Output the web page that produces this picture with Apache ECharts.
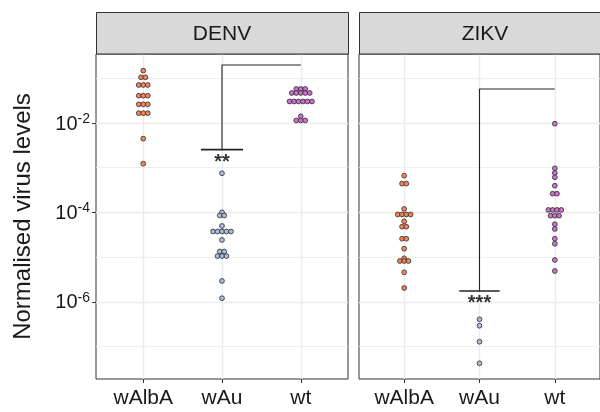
<!DOCTYPE html>
<html>
<head>
<meta charset="utf-8">
<script src="https://cdn.jsdelivr.net/npm/echarts@6/dist/echarts.min.js"></script>
<style>
html,body{margin:0;padding:0;background:#fff;}
#chart{width:600px;height:412px;}
</style>
</head>
<body>
<div id="chart"></div>
<script>
// ---------------- data ----------------
const panels = ['DENV', 'ZIKV'];
const categories = ['wAlbA', 'wAu', 'wt'];

// Normalised virus levels (each dot one sample)
const denv_wAlbA = [1.48e-1, 1.05e-1, 1.05e-1, 7.08e-2, 7.08e-2, 7.08e-2, 4.08e-2, 4.08e-2, 4.08e-2,
  2.62e-2, 2.62e-2, 2.62e-2, 1.66e-2, 1.66e-2, 1.66e-2, 4.47e-3, 1.23e-3];
const denv_wAu = [7.52e-4, 1.01e-4, 8.57e-5, 8.57e-5, 4.99e-5, 3.76e-5, 3.76e-5, 3.76e-5, 3.76e-5, 3.76e-5,
  2.43e-5, 1.34e-5, 1.34e-5, 1.06e-5, 1.06e-5, 1.06e-5, 2.94e-6, 1.21e-6];
const denv_wt = [5.77e-2, 5.77e-2, 5.77e-2, 4.69e-2, 4.69e-2, 4.69e-2, 4.69e-2, 4.69e-2,
  3.03e-2, 3.03e-2, 3.03e-2, 3.03e-2, 3.03e-2, 3.03e-2, 1.41e-2, 1.14e-2, 1.14e-2, 1.14e-2];
const zikv_wAlbA = [6.64e-4, 4.41e-4, 4.41e-4, 1.20e-4, 9.02e-5, 9.02e-5, 9.02e-5, 9.02e-5, 6.35e-5,
  4.81e-5, 4.81e-5, 2.59e-5, 2.59e-5, 1.55e-5, 9.46e-6, 8.22e-6, 8.22e-6, 8.22e-6, 4.60e-6, 2.05e-6];
const zikv_wAu = [4.09e-7, 2.94e-7, 1.29e-7, 4.25e-8];
const zikv_wt = [9.66e-3, 9.72e-4, 7.64e-4, 6.12e-4, 3.97e-4, 2.63e-4, 2.63e-4, 1.14e-4, 1.14e-4, 1.14e-4, 1.14e-4,
  8.47e-5, 8.47e-5, 8.47e-5, 5.45e-5, 4.28e-5, 2.59e-5, 2.00e-5, 8.67e-6, 4.92e-6];

// significance brackets (wAu vs wt) per panel
const sigTop = [1.98e-1, 5.77e-2];
const sigBottom = [2.54e-3, 1.76e-6];
const sigText = ['**', '***'];

// y axis ticks (powers of ten)
const yTickExponents = [-2, -4, -6];
const yMinorExponents = [-1, -3, -5, -7];
const yRange = [-7.723, -0.457]; // log10 extent of the panels

// ---------------- style ----------------
const FONT = 'Liberation Sans, Arial, Helvetica, sans-serif';
const colors = ['#F4845A', '#A9BDDB', '#CF6FCF'];
const DOT_STEP = 0.057;   // horizontal step between stacked dots (x units)
const BAR_HALF = 0.267;   // half-width of the significance bar (x units)

const gridLeft = [96, 359];
const gridTop = 54, gridW = 252, gridH = 325;

const panelData = [[denv_wAlbA, denv_wAu, denv_wt], [zikv_wAlbA, zikv_wAu, zikv_wt]];

function dotData(values, catIdx) {
  const out = [];
  let i = 0;
  while (i < values.length) {
    let j = i;
    while (j < values.length && values[j] === values[i]) j++;
    const n = j - i;
    for (let k = 0; k < n; k++) {
      out.push([catIdx + 1 + (k - (n - 1) / 2) * DOT_STEP, Math.log10(values[i])]);
    }
    i = j;
  }
  return out;
}

const grids = [], xAxes = [], yAxes = [], series = [], graphics = [];

panels.forEach((p, g) => {
  grids.push({
    left: gridLeft[g], top: gridTop, width: gridW, height: gridH,
    show: true, backgroundColor: '#fff', borderColor: '#333333', borderWidth: 1
  });
  xAxes.push({
    type: 'value', gridIndex: g, min: 0.4, max: 3.6,
    axisLine: { show: false },
    splitLine: { show: false },
    axisTick: { show: true, length: 4, lineStyle: { color: '#333333', width: 1 }, customValues: [1, 2, 3] },
    axisLabel: {
      customValues: [1, 2, 3],
      formatter: v => categories[Math.round(v) - 1],
      fontSize: 21, color: '#1a1a1a', fontFamily: FONT, margin: 9
    }
  });
  yAxes.push({
    type: 'value', gridIndex: g, min: yRange[0], max: yRange[1],
    axisLine: { show: false },
    splitLine: { show: false },
    axisTick: { show: g === 0, length: 4, lineStyle: { color: '#333333', width: 1 }, customValues: yTickExponents },
    axisLabel: {
      show: g === 0,
      customValues: yTickExponents,
      formatter: v => '{b|10}{s|' + Math.round(v) + '}',
      margin: 6,
      rich: {
        b: { fontSize: 20, fontFamily: FONT, color: '#1a1a1a', lineHeight: 22, verticalAlign: 'bottom' },
        s: { fontSize: 14, fontFamily: FONT, color: '#1a1a1a', lineHeight: 14, verticalAlign: 'top' }
      }
    },
    name: g === 0 ? 'Normalised virus levels' : '',
    nameLocation: 'middle', nameRotate: 90, nameGap: 61,
    nameTextStyle: { fontSize: 24, fontFamily: FONT, color: '#1a1a1a' }
  });

  // grid lines
  const ml = [];
  yMinorExponents.forEach(e => ml.push({ yAxis: e, lineStyle: { color: '#EBEBEB', width: 0.8, type: 'solid' } }));
  yTickExponents.forEach(e => ml.push({ yAxis: e, lineStyle: { color: '#EBEBEB', width: 1.4, type: 'solid' } }));
  [1, 2, 3].forEach(c => ml.push({ xAxis: c, lineStyle: { color: '#EBEBEB', width: 1.4, type: 'solid' } }));
  series.push({
    type: 'scatter', xAxisIndex: g, yAxisIndex: g, data: [], z: 1, silent: true,
    markLine: { silent: true, z: 1, symbol: ['none', 'none'], label: { show: false }, animation: false, data: ml }
  });

  // dots
  categories.forEach((c, ci) => {
    series.push({
      type: 'scatter', name: p + ' ' + c, xAxisIndex: g, yAxisIndex: g, z: 5,
      data: dotData(panelData[g][ci], ci),
      symbol: 'circle', symbolSize: 4.8,
      itemStyle: { color: colors[ci], borderColor: '#2a2a2a', borderWidth: 0.8, opacity: 1 },
      silent: true, animation: false
    });
  });

  // significance bracket
  const top = Math.log10(sigTop[g]), bot = Math.log10(sigBottom[g]);
  series.push({
    type: 'line', xAxisIndex: g, yAxisIndex: g, z: 4, silent: true, animation: false,
    data: [[3, top], [2, top], [2, bot]], symbol: 'none',
    lineStyle: { color: '#222222', width: 1.1 }
  });
  series.push({
    type: 'line', xAxisIndex: g, yAxisIndex: g, z: 4, silent: true, animation: false,
    data: [[2 - BAR_HALF, bot], [2 + BAR_HALF, bot]], symbol: 'none',
    lineStyle: { color: '#222222', width: 1.6 }
  });
  series.push({
    type: 'scatter', xAxisIndex: g, yAxisIndex: g, z: 6, silent: true, animation: false,
    data: [[2, bot]], symbol: 'circle', symbolSize: 1,
    itemStyle: { color: 'rgba(0,0,0,0)' },
    label: {
      show: true, position: 'inside', offset: [0, 13], formatter: sigText[g],
      fontSize: 20, fontWeight: 'bold', fontFamily: FONT, color: '#000'
    }
  });

  // facet strip
  graphics.push({
    type: 'rect', z: 10,
    shape: { x: gridLeft[g] + 0.5, y: 12.5, width: gridW, height: gridTop - 12.5 },
    style: { fill: '#D9D9D9', stroke: '#333333', lineWidth: 1 }
  });
  graphics.push({
    type: 'text', z: 11, x: gridLeft[g] + gridW / 2, y: (12.5 + gridTop) / 2 + 1,
    style: { text: p, fontSize: 21, fontFamily: FONT, fill: '#1a1a1a', align: 'center', verticalAlign: 'middle' }
  });
});

const chart = echarts.init(document.getElementById('chart'), null, { renderer: 'canvas' });
chart.setOption({
  animation: false,
  backgroundColor: '#ffffff',
  grid: grids, xAxis: xAxes, yAxis: yAxes, series: series, graphic: graphics
});
</script>
</body>
</html>
